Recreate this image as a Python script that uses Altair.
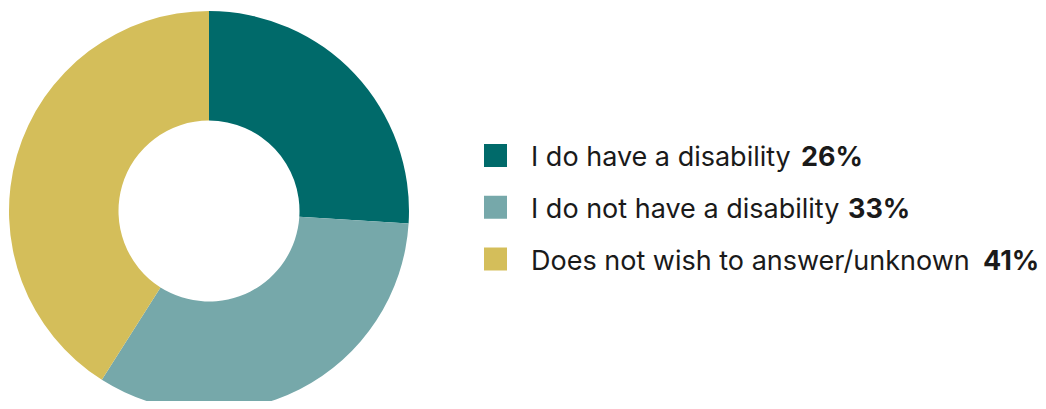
import altair as alt
import pandas as pd

categories = ["I do have a disability", "I do not have a disability", "Does not wish to answer/unknown"]
values = [26, 33, 41]
pct_labels = ["26%", "33%", "41%"]
colors = ["#006a6a", "#76a8aa", "#d4be5a"]

# layout (plot coordinates)
CX, CY = 201, 203
R_OUT, R_IN = 200, 90.5
SQ_X = 495.5 - 8
TXT_X = 531 - 8
pct_x = [801 - 8, 848 - 8, 983 - 8]
FONT = "Inter"
FS = 27

df = pd.DataFrame({
    "category": categories,
    "value": values,
    "pct": pct_labels,
    "order": list(range(len(categories))),
    "px": pct_x,
})

color_scale = alt.Scale(domain=categories, range=colors)
base = alt.Chart(df)

donut = base.mark_arc(outerRadius=R_OUT, innerRadius=R_IN).encode(
    theta=alt.Theta("value:Q", stack=True),
    order=alt.Order("order:Q"),
    color=alt.Color("category:N", scale=color_scale, legend=None),
    x=alt.value(CX),
    y=alt.value(CY),
)

yenc = alt.Y("category:N", sort=categories,
             scale=alt.Scale(type="point", range=[147.5, 251], padding=0), axis=None)

squares = base.mark_square(size=23 * 23, opacity=1).encode(
    x=alt.value(SQ_X),
    y=yenc,
    color=alt.Color("category:N", scale=color_scale, legend=None),
)

labels = base.mark_text(align="left", baseline="alphabetic", dy=10.5, font=FONT,
                        fontSize=FS, color="#1a1a1a").encode(
    x=alt.value(TXT_X),
    y=yenc,
    text="category:N",
)

pcts = base.mark_text(align="left", baseline="alphabetic", dy=10.5, font=FONT,
                      fontSize=FS, fontWeight="bold", color="#1a1a1a").encode(
    x=alt.X("px:Q", scale=alt.Scale(domain=[0, 1030], range=[0, 1030]), axis=None),
    y=yenc,
    text="pct:N",
)

chart = alt.layer(donut, squares, labels, pcts).properties(
    width=1030, height=393, padding=0, autosize=alt.AutoSizeParams(type="none")
).configure(background="white", view=alt.ViewConfig(stroke=None))

chart.save("out.html", embed_options={"renderer": "svg", "actions": False})
